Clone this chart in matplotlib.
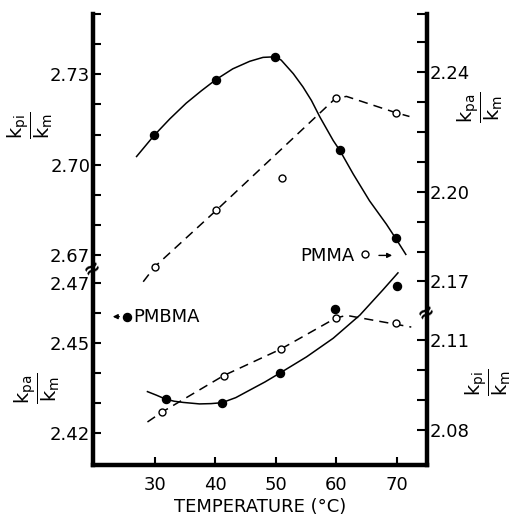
import numpy as np
import matplotlib
matplotlib.use('Agg')
import matplotlib.pyplot as plt

plt.rcParams['font.family'] = ['DejaVu Sans']
plt.rcParams['mathtext.default'] = 'regular'

pmbma_kpi_t = [29.9, 40.1, 49.9, 60.6, 69.8]
pmbma_kpi = [2.7097, 2.7282, 2.7358, 2.7047, 2.6756]
pmma_kpa_t = [30.0, 40.2, 51.0, 59.9, 69.8]
pmma_kpa = [2.1749, 2.1938, 2.2046, 2.2312, 2.2264]
pmbma_kpa_t = [31.8, 41.1, 50.7, 59.8, 70.1]
pmbma_kpa = [2.4313, 2.4301, 2.4400, 2.4614, 2.4690]
pmma_kpi_t = [31.2, 41.4, 50.8, 59.9, 69.8]
pmma_kpi = [2.0860, 2.0982, 2.1070, 2.1174, 2.1158]

# hand drawn guide curves
curve1_t = [27.0, 29.9, 32.5, 35.2, 37.7, 40.1, 42.9, 45.7, 47.9, 49.9, 50.9, 52.9,
            54.5, 55.9, 57.3, 59.5, 60.6, 62.8, 65.5, 68.3, 69.8, 71.5]
curve1 = [2.7027, 2.7097, 2.7152, 2.7204, 2.7245, 2.7282, 2.7318, 2.7343, 2.7356,
          2.7358, 2.7347, 2.7302, 2.7258, 2.7213, 2.7158, 2.7080, 2.7047, 2.6969,
          2.6880, 2.6802, 2.6756, 2.6702]
curve2_t = [28.1, 30.0, 40.2, 59.9, 61.7, 69.8, 72.1]
curve2 = [2.1699, 2.1749, 2.1938, 2.2312, 2.2318, 2.2264, 2.2251]
curve3_t = [28.8, 30.3, 31.8, 33.2, 34.7, 37.4, 39.3, 41.1, 43.4, 45.7, 48.2, 50.7,
            55.1, 59.5, 63.9, 67.7, 70.2]
curve3 = [2.4338, 2.4326, 2.4313, 2.4306, 2.4302, 2.4297, 2.4298, 2.4301, 2.4318,
          2.4343, 2.4370, 2.4400, 2.4454, 2.4516, 2.4593, 2.4677, 2.4734]
curve4_t = [28.8, 31.2, 41.4, 50.8, 59.9, 61.7, 72.4]
curve4 = [2.0827, 2.0860, 2.0982, 2.1070, 2.1174, 2.1183, 2.1144]

xticks = [30, 40, 50, 60, 70]
left_ticks = [2.42, 2.43, 2.44, 2.45, 2.46, 2.47, 2.67, 2.68, 2.69, 2.70, 2.71, 2.72, 2.73, 2.74, 2.75]
left_labels = ['2.42', '', '', '2.45', '', '2.47', '2.67', '', '', '2.70', '', '', '2.73', '', '']
right_ticks = [2.08, 2.09, 2.10, 2.11, 2.17, 2.18, 2.19, 2.20, 2.21, 2.22, 2.23, 2.24, 2.25, 2.2593]
right_labels = ['2.08', '', '', '2.11', '2.17', '', '', '2.20', '', '', '', '2.24', '', '']

# broken axis: piecewise linear scales (value -> height), gap squeezed out
left_v = [2.30, 2.475, 2.666, 2.80]
left_h = [-328, 196.5, 197.5, 601]
right_v = [2.00, 2.1193, 2.16, 2.30]
right_h = [-205, 152.5, 153.5, 573]


def scale_funcs(vals, hs):
    return (lambda v: np.interp(v, vals, hs), lambda h: np.interp(h, hs, vals))


W, H = 513, 518
fig = plt.figure(figsize=(W / 100, H / 100), dpi=100)
ax = fig.add_axes([93 / W, 1 - 465 / H, 334 / W, 451 / H])
ax2 = ax.twinx()
ax.set_yscale('function', functions=scale_funcs(left_v, left_h))
ax2.set_yscale('function', functions=scale_funcs(right_v, right_h))

lw = 1.1
ax.plot(curve1_t, curve1, color='black', lw=lw, solid_joinstyle='round')
ax.plot(curve3_t, curve3, color='black', lw=lw, solid_joinstyle='round')
ax.plot(pmbma_kpi_t, pmbma_kpi, 'o', color='black', ms=5.8, ls='none')
ax.plot(pmbma_kpa_t, pmbma_kpa, 'o', color='black', ms=5.8, ls='none')
ax2.plot(curve2_t, curve2, color='black', lw=lw, dashes=(6, 4))
ax2.plot(curve4_t, curve4, color='black', lw=lw, dashes=(6, 4))
ax2.plot(pmma_kpa_t, pmma_kpa, 'o', mfc='white', mec='black', mew=1.0, ms=5, ls='none')
ax2.plot(pmma_kpi_t, pmma_kpi, 'o', mfc='white', mec='black', mew=1.0, ms=5, ls='none')

ax.set_xlim(19.8, 75)
ax.set_ylim(2.40933, 2.75)
ax2.set_ylim(2.06833, 2.25933)

ax.set_xticks(xticks)
ax.set_xticklabels([str(t) for t in xticks], fontsize=13)
ax.set_yticks(left_ticks)
ax.set_yticklabels(left_labels, fontsize=13)
ax2.set_yticks(right_ticks)
ax2.set_yticklabels(right_labels, fontsize=13)
ax.minorticks_off()
ax2.minorticks_off()
ax.tick_params(axis='x', direction='in', length=6, width=1.5, pad=8)
ax.tick_params(axis='y', direction='in', length=6, width=1.5, pad=2)
ax2.tick_params(axis='y', direction='in', length=7, width=1.5, pad=2)
ax.set_xlabel('TEMPERATURE (°C)', fontsize=13, labelpad=3)

for a in (ax, ax2):
    a.spines['top'].set_visible(False)
    for s in ('left', 'right', 'bottom'):
        a.spines[s].set_linewidth(3.2)
ax.spines['right'].set_visible(False)
ax2.spines['left'].set_visible(False)
ax2.spines['bottom'].set_visible(False)

# axis break marks
ax.text(0, 197 / 451, '≈', transform=ax.transAxes, ha='center', va='center',
        fontsize=15, fontweight='bold', rotation=30)
ax.text(1, 153 / 451, '≈', transform=ax.transAxes, ha='center', va='center',
        fontsize=15, fontweight='bold', rotation=30)

# labels for the four scales
frac_kpi = r'$\dfrac{k_{pi}}{k_m}$'
frac_kpa = r'$\dfrac{k_{pa}}{k_m}$'
fig.text(30 / W, 1 - 125 / H, frac_kpi, rotation=90, ha='center', va='center', fontsize=14)
fig.text(37 / W, 1 - 388 / H, frac_kpa, rotation=90, ha='center', va='center', fontsize=14)
fig.text(480 / W, 1 - 107 / H, frac_kpa, rotation=90, ha='center', va='center', fontsize=14)
fig.text(488 / W, 1 - 382 / H, frac_kpi, rotation=90, ha='center', va='center', fontsize=14)

# legend-like annotations
ax.plot([25.5], [2.4588], 'o', color='black', ms=5.8)
ax.annotate('', xy=(22.6, 2.4588), xytext=(24.6, 2.4588),
            arrowprops=dict(arrowstyle='-|>', color='black', lw=1, mutation_scale=7))
ax.text(26.4, 2.4588, 'PMBMA', ha='left', va='center', fontsize=13)
ax2.text(63.1, 2.1784, 'PMMA', ha='right', va='center', fontsize=13)
ax2.plot([64.7], [2.1792], 'o', mfc='white', mec='black', mew=1.0, ms=5)
ax2.annotate('', xy=(69.7, 2.1787), xytext=(66.6, 2.1787),
             arrowprops=dict(arrowstyle='-|>', color='black', lw=1, mutation_scale=7))

fig.savefig('out.png', dpi=100)
